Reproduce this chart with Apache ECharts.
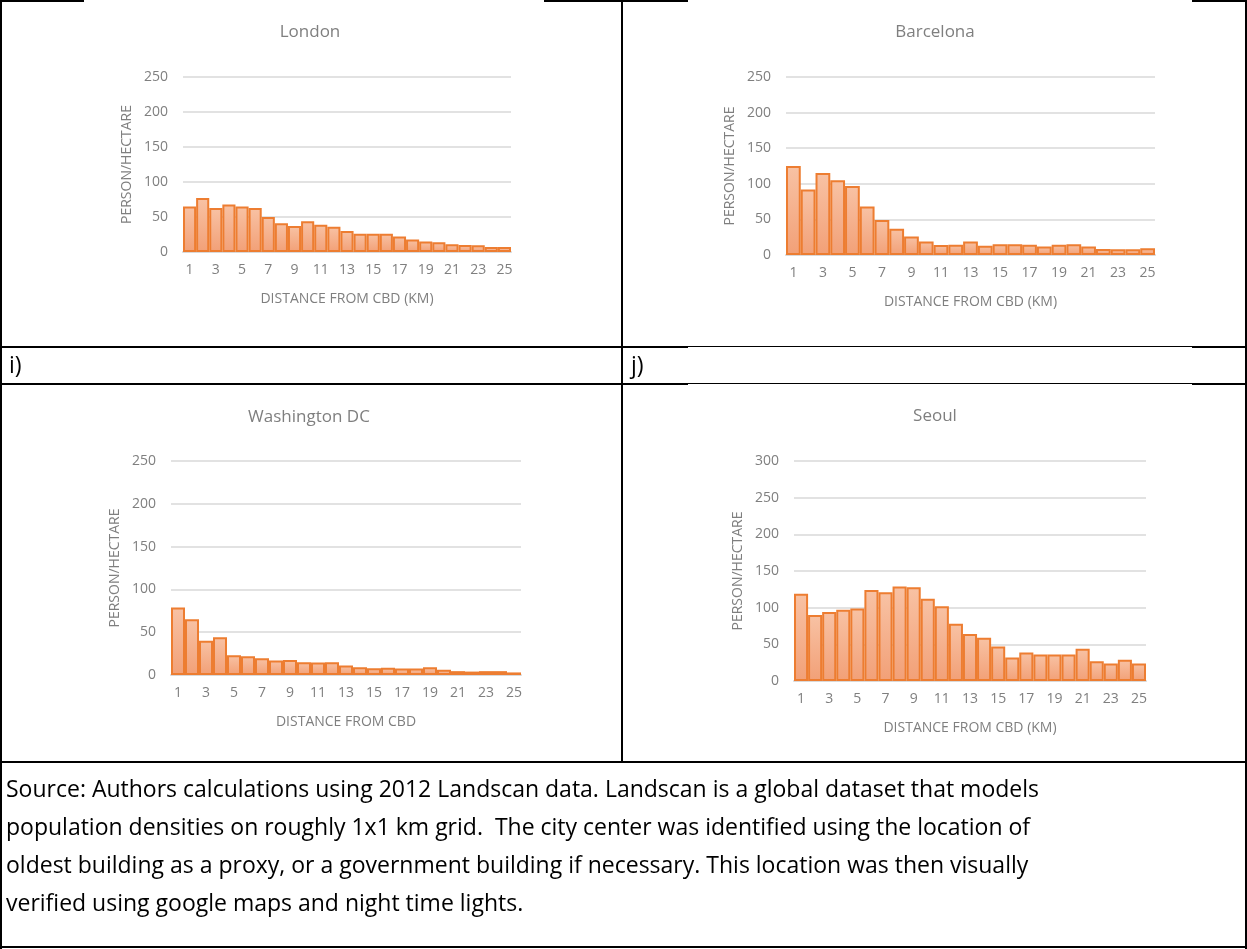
<!DOCTYPE html>
<html>
<head>
<meta charset="utf-8">
<script src="https://cdn.jsdelivr.net/npm/echarts@6/dist/echarts.min.js"></script>
<style>
  html, body { margin: 0; padding: 0; background: #fff; }
  #main { width: 1247px; height: 949px; }
</style>
</head>
<body>
<div id="main"></div>
<script>
// distance bands (km)
var categories = ['1','2','3','4','5','6','7','8','9','10','11','12','13',
                  '14','15','16','17','18','19','20','21','22','23','24','25'];

// person / hectare
var london     = [65, 77, 63, 68, 65, 63, 50, 41, 37, 44, 39, 36, 30, 26, 26, 26, 22, 18, 15, 14, 11, 10, 9.5, 7, 7];
var barcelona  = [125, 92, 115, 105, 97, 68, 49, 37, 26, 19, 14, 14.5, 19, 13, 15, 15, 14.5, 12, 14.5, 15, 12, 8.5, 8, 8, 9.5];
var washington = [79, 65, 40, 44, 23, 22, 19.5, 17, 17.5, 15, 14.5, 15, 11, 9, 8, 8.5, 7.5, 7.5, 9, 6, 4.5, 4, 4.5, 4.5, 3];
var seoul      = [119, 90, 94, 97, 99, 124, 121, 129, 128, 112, 102, 78, 64, 59, 47, 32, 39, 36, 36, 36, 44, 27, 24, 29, 24];

var titles    = ['London', 'Barcelona', 'Washington DC', 'Seoul'];
var xNames    = ['DISTANCE FROM CBD (KM)', 'DISTANCE FROM CBD (KM)', 'DISTANCE FROM CBD', 'DISTANCE FROM CBD (KM)'];
var yName     = 'PERSON/HECTARE';
var yMax      = [250, 250, 250, 300];

var sourceLines = [
  'Source: Authors calculations using 2012 Landscan data. Landscan is a global dataset that models',
  'population densities on roughly 1x1 km grid.  The city center was identified using the location of',
  'oldest building as a proxy, or a government building if necessary. This location was then visually',
  'verified using google maps and night time lights.'
];

var FONT = '"Open Sans", "DejaVu Sans", sans-serif';
var TXT = '#7f7f7f';
var GRIDLINE = '#d9d9d9';

// plot boxes (px)
var boxes = [
  { left: 183, top: 77, width: 328, height: 175, titleX: 310, titleY: 32 },
  { left: 786, top: 77, width: 369, height: 178, titleX: 935, titleY: 32 },
  { left: 171, top: 461, width: 350, height: 214, titleX: 309, titleY: 417 },
  { left: 794, top: 461, width: 352, height: 220, titleX: 935, titleY: 416 }
];
var allData = [london, barcelona, washington, seoul];

var grids = [], xAxes = [], yAxes = [], series = [], graphics = [];

for (var i = 0; i < 4; i++) {
  var b = boxes[i];
  grids.push({ left: b.left, top: b.top, width: b.width, height: b.height,
               containLabel: false, outerBoundsMode: 'none' });
  xAxes.push({
    type: 'category', gridIndex: i, data: categories,
    name: xNames[i], nameLocation: 'middle', nameGap: 47,
    nameTextStyle: { color: TXT, fontSize: 14, fontFamily: FONT, verticalAlign: 'middle' },
    axisLine: { lineStyle: { color: GRIDLINE, width: 2 } },
    axisTick: { show: false },
    axisLabel: { interval: 1, color: TXT, fontSize: 14, fontFamily: FONT, margin: 11 }
  });
  yAxes.push({
    type: 'value', gridIndex: i, min: 0, max: yMax[i], interval: 50,
    name: yName, nameLocation: 'middle', nameRotate: 90, nameGap: 56,
    nameTextStyle: { color: TXT, fontSize: 14, fontFamily: FONT, verticalAlign: 'middle' },
    axisLine: { show: false }, axisTick: { show: false },
    axisLabel: { color: TXT, fontSize: 14, fontFamily: FONT, margin: 15 },
    splitLine: { lineStyle: { color: GRIDLINE, width: 1.5 } }
  });
  series.push({
    type: 'bar', xAxisIndex: i, yAxisIndex: i, data: allData[i],
    barCategoryGap: '0%', silent: true,
    itemStyle: {
      color: new echarts.graphic.LinearGradient(0, 0, 0, 1, [
        { offset: 0, color: '#f8c2a4' },
        { offset: 1, color: '#f2a077' }
      ]),
      borderColor: '#ed7d31', borderWidth: 2
    }
  });
  graphics.push({
    type: 'text', x: b.titleX, y: b.titleY,
    style: { text: titles[i], fill: TXT, font: '17px ' + FONT, align: 'center', verticalAlign: 'middle' }
  });
}

// table rules
function rule(x, y, w, h) {
  graphics.push({ type: 'rect', shape: { x: x, y: y, width: w, height: h }, style: { fill: '#000' }, silent: true });
}
rule(0, 0, 84, 2); rule(544, 0, 144, 2); rule(1192, 0, 55, 2);
rule(0, 0, 2, 949);
rule(1245, 0, 2, 949);
rule(621, 0, 2, 763);
rule(0, 346, 688, 2); rule(688, 346, 504, 1); rule(1192, 346, 55, 2);
rule(0, 383, 688, 2); rule(688, 383, 504, 1); rule(1192, 383, 55, 2);
rule(0, 761, 1247, 2);
rule(0, 946, 1247, 2);

var BODY_FONT = '23px "Open Sans", sans-serif';
graphics.push({ type: 'text', x: 9, y: 366,
  style: { text: 'i)', fill: '#000', font: BODY_FONT, verticalAlign: 'middle' } });
graphics.push({ type: 'text', x: 631, y: 366,
  style: { text: 'j)', fill: '#000', font: BODY_FONT, verticalAlign: 'middle' } });

for (var k = 0; k < sourceLines.length; k++) {
  graphics.push({ type: 'text', x: 6, y: 790 + k * 38,
    style: { text: sourceLines[k], fill: '#000', font: BODY_FONT, verticalAlign: 'middle' } });
}

var chart = echarts.init(document.getElementById('main'));
chart.setOption({
  animation: false,
  backgroundColor: '#fff',
  grid: grids,
  xAxis: xAxes,
  yAxis: yAxes,
  series: series,
  graphic: graphics
});
</script>
</body>
</html>
